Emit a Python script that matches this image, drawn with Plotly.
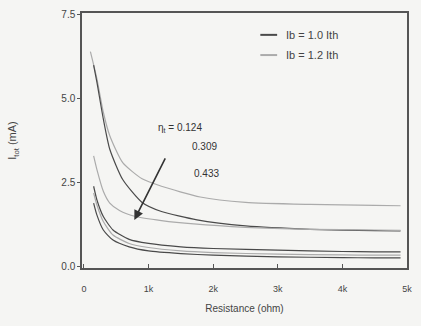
import plotly.graph_objects as go

# ---- data ----
R1 = [100, 200, 300, 400, 600, 900, 1200, 1800, 2500, 3500, 4500, 4900]
I1 = [6.4, 5.6, 4.6, 3.9, 3.1, 2.62, 2.4, 2.08, 1.92, 1.86, 1.83, 1.82]   # eta 0.124, Ib 1.2

R2 = [150, 200, 300, 400, 600, 900, 1200, 1750, 2500, 3500, 4500, 4900]
I2 = [6.0, 5.5, 4.4, 3.5, 2.6, 1.92, 1.65, 1.40, 1.22, 1.12, 1.08, 1.07]  # eta 0.124, Ib 1.0

R3 = [150, 200, 300, 400, 550, 800, 1200, 1700, 2500, 3500, 4500, 4900]
I3 = [3.3, 2.9, 2.25, 1.9, 1.68, 1.5, 1.38, 1.28, 1.18, 1.12, 1.1, 1.09]  # eta 0.309, Ib 1.2

R4 = [150, 200, 300, 450, 700, 1000, 1500, 2000, 3000, 4000, 4500, 4900]
I4 = [2.4, 2.0, 1.5, 1.1, 0.82, 0.7, 0.6, 0.55, 0.5, 0.46, 0.45, 0.45]   # eta 0.309, Ib 1.0

R5 = [150, 200, 300, 450, 700, 1000, 1500, 2000, 3000, 4000, 4500, 4900]
I5 = [2.2, 1.85, 1.35, 0.95, 0.7, 0.58, 0.48, 0.43, 0.38, 0.36, 0.35, 0.35]  # eta 0.433, Ib 1.2

R6 = [150, 200, 300, 450, 700, 1000, 1500, 2000, 3000, 4000, 4500, 4900]
I6 = [1.9, 1.55, 1.1, 0.8, 0.6, 0.48, 0.4, 0.35, 0.3, 0.28, 0.27, 0.27]   # eta 0.433, Ib 1.0

x_ticks = [0, 1000, 2000, 3000, 4000, 5000]
x_ticklabels = ["0", "1k", "2k", "3k", "4k", "5k"]
y_ticks = [0.0, 2.5, 5.0, 7.5]
legend_labels = ["Ib = 1.0 Ith", "Ib = 1.2 Ith"]
eta_labels = ["η<sub>t</sub> = 0.124", "0.309", "0.433"]

DARK = "#4a4a4a"
LIGHT = "#ababab"
BG = "#f5f5f3"
FONT = "Liberation Sans, Arial, sans-serif"

fig = go.Figure()
series = [(R1, I1, LIGHT), (R2, I2, DARK), (R3, I3, LIGHT),
          (R4, I4, DARK), (R5, I5, LIGHT), (R6, I6, DARK)]
for r, i, c in series:
    fig.add_trace(go.Scatter(x=r, y=i, mode="lines",
                             line=dict(color=c, width=1.2, shape="spline", smoothing=0.6),
                             showlegend=False, hoverinfo="skip"))

# manual legend
for k, (lab, col) in enumerate(zip(legend_labels, [DARK, LIGHT])):
    yv = 6.9 - k * 0.6
    fig.add_shape(type="line", xref="x", yref="y", x0=2730, x1=2990, y0=yv, y1=yv,
                  line=dict(color=col, width=2))
    fig.add_annotation(x=3090, y=yv, xref="x", yref="y", text=lab, showarrow=False,
                       xanchor="left", yanchor="middle", font=dict(size=11, color="#444", family=FONT))

# eta labels
fig.add_annotation(x=1480, y=4.14, text=eta_labels[0], showarrow=False,
                   font=dict(size=10, color="#333", family=FONT))
fig.add_annotation(x=1870, y=3.57, text=eta_labels[1], showarrow=False,
                   font=dict(size=10, color="#333", family=FONT))
fig.add_annotation(x=1900, y=2.77, text=eta_labels[2], showarrow=False,
                   font=dict(size=10, color="#333", family=FONT))
# arrow
fig.add_annotation(x=780, y=1.40, ax=1270, ay=3.27, xref="x", yref="y", axref="x", ayref="y",
                   text="", showarrow=True, arrowhead=2, arrowsize=1.2, arrowwidth=1.6, arrowcolor="#333")

fig.update_layout(
    width=421, height=326,
    margin=dict(l=82, r=9, t=13, b=58),
    paper_bgcolor=BG, plot_bgcolor=BG,
    font=dict(family=FONT, size=9, color="#444"),
    xaxis=dict(range=[-30, 5000], tickvals=x_ticks, ticktext=x_ticklabels,
               showgrid=False, zeroline=False, showline=True, linecolor="#555", linewidth=1.5,
               mirror=True, ticks="inside", ticklen=4, tickcolor="#555",
               ticklabelstandoff=11, tickfont=dict(size=9, color="#444"),
               title=dict(text="Resistance (ohm)", font=dict(size=10, color="#444"), standoff=12)),
    yaxis=dict(range=[-0.03, 7.55], tickvals=y_ticks, tickformat=".1f",
               showgrid=False, zeroline=False, showline=True, linecolor="#555", linewidth=1.5,
               mirror=True, ticks="outside", ticklen=3, tickcolor="#555",
               tickfont=dict(size=10, color="#444"),
               title=dict(text="I<sub>tot</sub> (mA)", font=dict(size=11, color="#444"), standoff=42)),
)

fig.write_html("out.html")
